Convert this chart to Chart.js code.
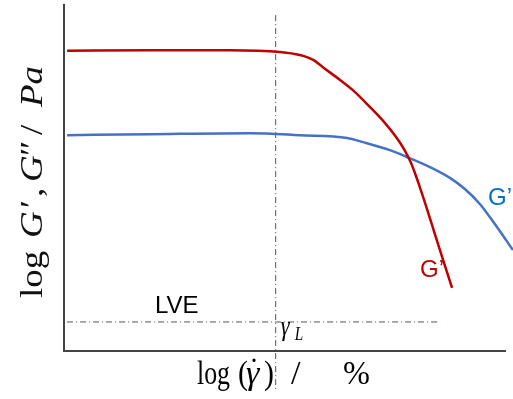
<!DOCTYPE html>
<html>
<head>
<meta charset="utf-8">
<script src="https://cdn.jsdelivr.net/npm/chart.js@4/dist/chart.umd.min.js"></script>
<style>
  html, body { margin: 0; padding: 0; background: #fff; }
  #wrap { width: 513px; height: 399px; }
</style>
</head>
<body>
<div id="wrap"><canvas id="chart"></canvas></div>
<script>
// log(strain) positions (arbitrary units) and log moduli
const gppX = [0.07, 1.95, 3.76, 4.90, 5.35, 5.65, 5.87, 6.26, 6.55, 6.94, 7.28, 7.53, 7.71, 7.87, 8.03, 8.21, 8.41, 8.59, 8.80];
const gppY = [8.65, 8.67, 8.67, 8.62, 8.53, 8.39, 8.18, 7.81, 7.52, 7.03, 6.57, 6.17, 5.82, 5.42, 4.87, 4.18, 3.37, 2.65, 1.82];

const gpX = [0.07, 1.95, 4.22, 5.35, 6.42, 6.78, 7.39, 7.78, 8.30, 8.75, 9.09, 9.43, 9.77, 10.18];
const gpY = [6.22, 6.25, 6.28, 6.22, 6.14, 6.02, 5.79, 5.59, 5.30, 4.99, 4.67, 4.24, 3.66, 2.91];

const gammaL = 4.80;      // limit of linear viscoelastic range
const lveLevel = 0.84;
const lveStart = 0.07;
const lveEnd = 8.53;
const markerTop = 9.68;
const markerBottom = -1.12;

function toPoints(xs, ys) {
    return xs.map((x, i) => ({ x: x, y: ys[i] }));
}

const serif = '"Liberation Serif", "Times New Roman", serif';
const sans = '"Liberation Sans", Arial, sans-serif';

// draw a piece of text squeezed horizontally like the original latex labels
function squeezed(ctx, text, x, y, font, sx, angle) {
    ctx.save();
    ctx.translate(x, y);
    ctx.scale(sx, 1);
    if (angle) ctx.rotate(angle);
    ctx.font = font;
    ctx.fillText(text, 0, 0);
    ctx.restore();
}

const labelsPlugin = {
    id: 'labels',
    afterDraw(chart) {
        const ctx = chart.ctx;
        const xs = chart.scales.x;
        ctx.save();
        ctx.textBaseline = 'alphabetic';

        ctx.font = '24px ' + sans;
        ctx.fillStyle = '#000';
        ctx.fillText('LVE', 155, 313);

        ctx.fillStyle = '#0070C0';
        ctx.fillText('G\u2019', 488, 205);
        ctx.fillStyle = '#C00000';
        ctx.fillText('G\u2019', 420, 277);

        // gamma_L
        ctx.fillStyle = '#000';
        const gx = xs.getPixelForValue(gammaL) + 5;
        squeezed(ctx, '\u03B3', gx, 335, 'italic 28px ' + serif, 0.8);
        squeezed(ctx, 'L', gx + 14, 340, 'italic 19px ' + serif, 0.8);

        // x title: log (γ̇) / %
        const rom = '34px ' + serif;
        const ital = 'italic 34px ' + serif;
        const by = 384;
        squeezed(ctx, 'log', 197, by, rom, 0.76);
        squeezed(ctx, '(', 238, by, rom, 0.88);
        squeezed(ctx, '\u03B3', 246, by, ital, 1.0);
        squeezed(ctx, '\u02D9', 249, by - 3, rom, 0.88);
        squeezed(ctx, ')', 264, by, rom, 0.88);
        squeezed(ctx, '/', 291, by, rom, 1.0);
        squeezed(ctx, '%', 343, by, rom, 0.95);

        // y title, rotated: log G', G'' / Pa
        ctx.fillStyle = '#111';
        const yr = '37px ' + serif;
        const yi = 'italic 37px ' + serif;
        const a = -Math.PI / 2;
        const bx = 42;
        squeezed(ctx, 'log', bx, 298, yr, 0.86, a);
        squeezed(ctx, 'G', bx, 238, yi, 0.86, a);
        squeezed(ctx, '\u2032', bx, 208, yr, 0.86, a);
        squeezed(ctx, ',', bx, 197, yr, 0.86, a);
        squeezed(ctx, 'G', bx, 182, yi, 0.86, a);
        squeezed(ctx, '\u2033', bx, 156, yr, 0.86, a);
        squeezed(ctx, '/', bx, 135, yr, 0.86, a);
        squeezed(ctx, 'Pa', bx, 107, yi, 0.86, a);
        ctx.restore();
    }
};

const dashDot = [6, 3, 1, 3];

const ctx = document.getElementById('chart').getContext('2d');
new Chart(ctx, {
    type: 'line',
    data: {
        datasets: [
            {
                label: "G''",
                data: toPoints(gppX, gppY),
                borderColor: '#C00000',
                borderWidth: 2.5,
                pointRadius: 0,
                cubicInterpolationMode: 'monotone',
                clip: false
            },
            {
                label: "G'",
                data: toPoints(gpX, gpY),
                borderColor: '#4472C4',
                borderWidth: 2.5,
                pointRadius: 0,
                cubicInterpolationMode: 'monotone',
                clip: false
            },
            {
                label: 'LVE',
                data: [{ x: lveStart, y: lveLevel }, { x: lveEnd, y: lveLevel }],
                borderColor: '#555',
                borderWidth: 1,
                borderDash: dashDot,
                pointRadius: 0,
                clip: false
            },
            {
                label: 'gammaL',
                data: [{ x: gammaL, y: markerTop }, { x: gammaL, y: markerBottom }],
                borderColor: '#555',
                borderWidth: 1,
                borderDash: dashDot,
                pointRadius: 0,
                clip: false
            },
            {
                // y axis line, stops at the x axis like in the sketch
                label: 'axis',
                data: [{ x: 0, y: 0 }, { x: 0, y: 10 }],
                borderColor: '#444',
                borderWidth: 2,
                pointRadius: 0,
                clip: false
            }
        ]
    },
    options: {
        responsive: true,
        maintainAspectRatio: false,
        animation: false,
        layout: { padding: { left: 64, top: 4, right: 8, bottom: 9 } },
        plugins: {
            legend: { display: false },
            tooltip: { enabled: false }
        },
        scales: {
            x: {
                type: 'linear',
                position: { y: 0 },
                min: 0,
                max: 10,
                grid: { display: false, drawTicks: false },
                ticks: { display: false },
                border: { display: true, color: '#444', width: 2 },
                afterFit(scale) { scale.height = 0; }
            },
            y: {
                type: 'linear',
                min: markerBottom,
                max: 10,
                grid: { display: false, drawTicks: false },
                ticks: { display: false },
                border: { display: false },
                afterFit(scale) { scale.width = 0; }
            }
        }
    },
    plugins: [labelsPlugin]
});
</script>
</body>
</html>
